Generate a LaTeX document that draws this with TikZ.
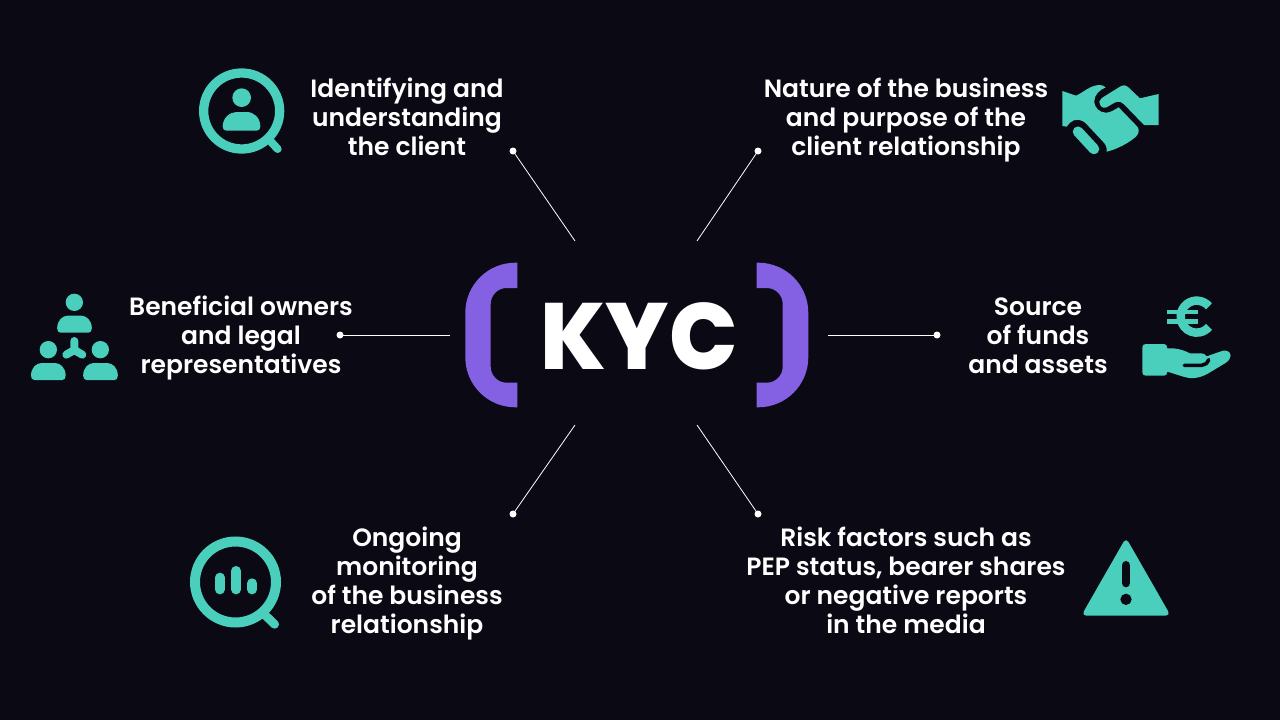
\documentclass[tikz,border=0pt]{standalone}
\usepackage{fontspec}
\newfontfamily\pfs{Poppins SemiBold}
\newfontfamily\pfb{Poppins ExtraBold}
\definecolor{bgc}{HTML}{0B0914}
\definecolor{teal}{HTML}{49CFBB}
\definecolor{purp}{HTML}{8460E3}
\tikzset{
  lbl/.style={text=white,align=center,inner sep=0pt,font=\pfs\fontsize{25}{29}\selectfont},
  dotn/.style={circle,fill=white,inner sep=0pt,minimum size=7pt},
  link/.style={draw=white,line width=0.8pt},
  ink/.style={fill=teal,draw=none},
  ring/.style={draw=teal,fill=none},
  zoomed/.style={x=0.33333pt,y=-0.33333pt},
}
\begin{document}
\begin{tikzpicture}[x=1pt,y=-1pt]
\useasboundingbox (0,0) rectangle (1280,720);
\fill[bgc] (0,0) rectangle (1280,720);
% brackets
\fill[purp] (517.3,262.7) -- (515.3,262.7) arc[start angle=-90,end angle=-180,radius=50] -- (465.3,357.3) arc[start angle=180,end angle=90,radius=50] -- (517.3,407.3) -- (517.3,382.7) -- (506.7,382.7) arc[start angle=90,end angle=180,radius=16] -- (490.7,304) arc[start angle=180,end angle=270,radius=16] -- (517.3,288) -- cycle;
\fill[purp] (756.7,262.7) -- (758.3,262.7) arc[start angle=-90,end angle=0,radius=50] -- (808.3,357.3) arc[start angle=0,end angle=90,radius=50] -- (756.7,407.3) -- (756.7,382.7) -- (766.7,382.7) arc[start angle=90,end angle=0,radius=16] -- (782.7,304) arc[start angle=0,end angle=-90,radius=16] -- (756.7,288) -- cycle;
\node[anchor=base,text=white,inner sep=0pt,font=\pfb\fontsize{94}{94}\selectfont] (kyc) at (639,369) {\scalebox{0.96}[1]{KYC}};
% labels
\node[lbl] (t1) at (407,121) {\strut Identifying and\\understanding\\the client\strut};
\node[lbl] (t2) at (906,121) {\strut Nature of the business\\and purpose of the\\client relationship\strut};
\node[lbl] (t3) at (241,339) {\strut Beneficial owners\\and legal\\representatives\strut};
\node[lbl] (t4) at (1038,339) {\strut Source\\of funds\\and assets\strut};
\node[lbl] (t5) at (407,583.7) {\strut Ongoing\\monitoring\\of the business\\relationship\strut};
\node[lbl] (t6) at (906,583.7) {\strut Risk factors such as\\PEP status, bearer shares\\or negative reports\\in the media\strut};
% connectors
\node[dotn] (d1) at (513,151) {};
\node[dotn] (d2) at (758,151) {};
\node[dotn] (d3) at (340,335) {};
\node[dotn] (d4) at (937,335) {};
\node[dotn] (d5) at (513,514) {};
\node[dotn] (d6) at (758,514) {};
\coordinate (e1) at (575,241);
\coordinate (e2) at (697,241);
\coordinate (e3) at (450,335);
\coordinate (e4) at (828,335);
\coordinate (e5) at (575,425);
\coordinate (e6) at (697,425);
\draw[link] (d1.center) -- (e1);
\draw[link] (d2.center) -- (e2);
\draw[link] (d3.center) -- (e3);
\draw[link] (d4.center) -- (e4);
\draw[link] (d5.center) -- (e5);
\draw[link] (d6.center) -- (e6);
% icon 1: person in magnifier
\begin{scope}[shift={(180,50)},zoomed]
\draw[ring,line width=9.3pt] (185,183) circle[radius=114];
\draw[teal,line width=8pt,line cap=round] (270,272) -- (293,297);
\fill[ink] (185,143) circle[radius=28];
\fill[ink] (128,230) .. controls (128,203) and (150,186) .. (170,186) -- (200,186) .. controls (222,186) and (241,203) .. (241,230) .. controls (241,238) and (236,242) .. (230,242) -- (139,242) .. controls (133,242) and (128,238) .. (128,230) -- cycle;
\end{scope}
% icon 2: handshake
\begin{scope}[shift={(1050,70)},zoomed]
\fill[ink] (37,63) -- (78,77) .. controls (100,68) and (120,45) .. (150,45) .. controls (157,45) and (162,48) .. (167,52) .. controls (148,60) and (133,75) .. (133,93) .. controls (133,115) and (150,128) .. (168,128) .. controls (182,128) and (195,118) .. (206,112) -- (262,170) .. controls (268,178) and (268,190) .. (258,200) .. controls (235,220) and (200,238) .. (170,245) .. controls (172,232) and (166,222) .. (158,214) -- (112,165) .. controls (95,145) and (75,145) .. (60,158) -- (50,170) -- (37,168) -- cycle;
\fill[ink] (148,95) .. controls (150,88) and (155,84) .. (165,78) -- (210,50) .. controls (220,44) and (228,45) .. (235,52) -- (270,85) -- (326,72) -- (326,165) -- (282,165) -- (222,103) .. controls (208,90) and (198,95) .. (185,103) -- (170,112) .. controls (158,117) and (148,108) .. (148,95) -- cycle;
\draw[teal,line width=10.5pt,line cap=round] (84,185) -- (132,237);
\end{scope}
% icon 3: people tree
\begin{scope}[shift={(20,285)},zoomed]
\fill[ink] (163,52) circle[radius=26];
\fill[ink] (85,194) circle[radius=26];
\fill[ink] (241,194) circle[radius=26];
\foreach \xx/\yy in {163.5/92,85/234,241.5/234}{
  \fill[ink] (\xx-52,\yy+38) .. controls (\xx-52,\yy+14) and (\xx-36,\yy) .. (\xx-20,\yy) -- (\xx+20,\yy) .. controls (\xx+36,\yy) and (\xx+52,\yy+14) .. (\xx+52,\yy+38) .. controls (\xx+52,\yy+46) and (\xx+48,\yy+51) .. (\xx+42,\yy+51) -- (\xx-42,\yy+51) .. controls (\xx-48,\yy+51) and (\xx-52,\yy+46) .. (\xx-52,\yy+38) -- cycle;
}
\draw[teal,line width=8pt,line cap=round,line join=round] (163,168) -- (163,195) -- (139,209);
\draw[teal,line width=8pt,line cap=round,line join=round] (163,195) -- (187,209);
\end{scope}
% icon 4: euro over hand
\begin{scope}[shift={(1130,285)},zoomed]
\draw[teal,line width=8.5pt] (236.8,64.1) arc[start angle=-40,end angle=-320,radius=48];
\draw[teal,line width=4.3pt] (112,81.5) -- (205,81.5);
\draw[teal,line width=4.3pt] (112,109.5) -- (205,109.5);
\fill[ink] (47,177) -- (102,177) .. controls (108,177) and (112,182) .. (112,190) .. controls (140,188) and (165,197) .. (180,205) -- (212,205) .. controls (222,205) and (228,210) .. (230,214) -- (270,200) .. controls (285,192) and (302,198) .. (302,212) .. controls (302,222) and (295,228) .. (285,235) -- (235,265) .. controls (205,282) and (180,282) .. (160,275) -- (112,260) .. controls (112,268) and (108,272) .. (102,272) -- (47,272) .. controls (41,272) and (37,268) .. (37,262) -- (37,187) .. controls (37,181) and (41,177) .. (47,177) -- cycle;
\draw[bgc,line width=3.6pt,line cap=round] (163,241) -- (215,241) .. controls (225,241) and (232,234) .. (236,224);
\end{scope}
% icon 5: chart in magnifier
\begin{scope}[shift={(180,525)},zoomed]
\draw[ring,line width=10pt] (166.5,171) circle[radius=121.5];
\draw[teal,line width=8.7pt,line cap=round] (255,270) -- (284,298);
\draw[teal,line width=9.7pt,line cap=round] (119.5,157.5) -- (119.5,193.5);
\draw[teal,line width=9.7pt,line cap=round] (168.5,137.5) -- (168.5,193.5);
\draw[teal,line width=9.7pt,line cap=round] (216.5,174.5) -- (216.5,193.5);
\end{scope}
% icon 6: warning
\begin{scope}[shift={(1075,530)},zoomed]
\fill[ink,rounded corners=5pt] (153,23) -- (287,257) -- (19,257) -- cycle;
\draw[bgc,line width=8.7pt,line cap=round] (153,106) -- (153,159);
\fill[bgc] (153,208) circle[radius=17];
\end{scope}
\end{tikzpicture}
\end{document}
